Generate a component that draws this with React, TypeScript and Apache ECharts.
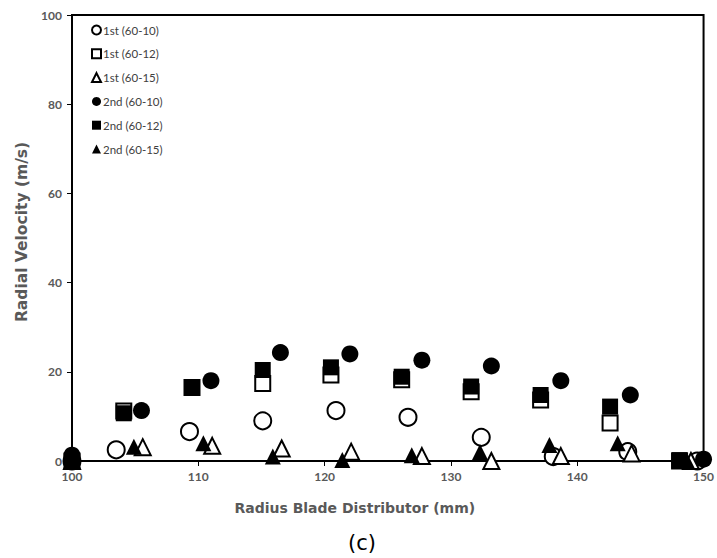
import React, { useEffect, useRef } from "react";
import * as echarts from "echarts";

const seriesNames = ["1st (60-10)", "1st (60-12)", "1st (60-15)", "2nd (60-10)", "2nd (60-12)", "2nd (60-15)"];

const x1st6010 = [100, 103.5, 109.3, 115.1, 120.9, 126.6, 132.4, 138.1, 144.0, 149.5];
const y1st6010 = [0, 2.5, 6.6, 9.0, 11.3, 9.8, 5.3, 1.0, 2.1, 0];

const x1st6012 = [100, 104.1, 109.5, 115.1, 120.5, 126.1, 131.6, 137.1, 142.6, 148.1];
const y1st6012 = [0, 11.2, 16.5, 17.4, 19.3, 18.2, 15.5, 13.7, 8.5, 0];

const x1st6015 = [100, 105.6, 111.1, 116.6, 122.1, 127.7, 133.2, 138.7, 144.3, 149.0];
const y1st6015 = [0, 3.1, 3.4, 2.8, 2.1, 1.1, 0, 1.1, 1.7, 0];

const x2nd6010 = [100, 105.5, 111.0, 116.5, 122.0, 127.7, 133.2, 138.7, 144.2, 150];
const y2nd6010 = [1.3, 11.3, 18.0, 24.3, 24.0, 22.6, 21.3, 18.0, 14.8, 0.4];

const x2nd6012 = [100, 104.1, 109.5, 115.1, 120.5, 126.1, 131.6, 137.1, 142.6, 148.1];
const y2nd6012 = [0, 10.7, 16.5, 20.4, 21.0, 18.9, 16.7, 14.8, 12.2, 0.2];

const x2nd6015 = [100, 104.9, 110.4, 115.9, 121.4, 126.9, 132.3, 137.8, 143.2, 148.7];
const y2nd6015 = [0, 3.2, 4.0, 1.0, 0.2, 1.3, 2.0, 3.6, 4.0, 0];

const xTicks = [100, 110, 120, 130, 140, 150];
const yTicks = [0, 20, 40, 60, 80, 100];

const pairs = (xs: number[], ys: number[]) => xs.map((x, i) => [x, ys[i]]);

export default function App() {
  const ref = useRef<HTMLDivElement>(null);
  useEffect(() => {
    document.body.style.margin = "0";
    const chart = echarts.init(ref.current!, null, { renderer: "svg" });
    const font = "Lato, 'Open Sans', sans-serif";
    const wide = "'DejaVu Sans', sans-serif";
    const mk = (name: string, xs: number[], ys: number[], symbol: string, size: number, open: boolean) => ({
      name,
      type: "scatter",
      data: pairs(xs, ys),
      symbol,
      symbolSize: size,
      itemStyle: open
        ? { color: "#ffffff", borderColor: "#000000", borderWidth: 2, opacity: 1 }
        : { color: "#000000", borderColor: "#000000", borderWidth: 0, opacity: 1 },
    });
    chart.setOption({
      animation: false,
      backgroundColor: "#ffffff",
      grid: {
        left: 72,
        right: 13,
        top: 15,
        bottom: 97,
        show: true,
        borderColor: "#000000",
        borderWidth: 2,
        backgroundColor: "transparent",
      },
      legend: {
        orient: "vertical",
        left: 86,
        top: 19,
        itemWidth: 9,
        itemHeight: 9,
        itemGap: 11.8,
        textStyle: { fontFamily: font, fontSize: 11.5, color: "#404040", padding: [0, 0, 0, -3] },
        data: seriesNames.map((n) => ({ name: n })),
      },
      xAxis: {
        type: "value",
        min: xTicks[0],
        max: xTicks[xTicks.length - 1],
        interval: 10,
        name: "Radius Blade Distributor (mm)",
        nameLocation: "middle",
        nameGap: 40,
        nameTextStyle: {
          fontFamily: wide,
          fontSize: 14,
          fontWeight: "bold",
          color: "#595959",
          padding: [0, 66, 0, 0],
        },
        axisLine: { show: true, lineStyle: { color: "#000000", width: 2 } },
        axisTick: { show: true, length: 5, lineStyle: { color: "#000000", width: 1 } },
        axisLabel: { fontFamily: font, fontSize: 12, fontWeight: "bold", color: "#595959", margin: 9 },
        splitLine: { show: false },
      },
      yAxis: {
        type: "value",
        min: yTicks[0],
        max: yTicks[yTicks.length - 1],
        interval: 20,
        name: "Radial Velocity (m/s)",
        nameLocation: "middle",
        nameGap: 41,
        nameTextStyle: {
          fontFamily: wide,
          fontSize: 15.5,
          fontWeight: "bold",
          color: "#595959",
          padding: [0, 0, 0, 12],
        },
        axisLine: { show: true, lineStyle: { color: "#000000", width: 2 } },
        axisTick: { show: true, length: 5, lineStyle: { color: "#000000", width: 1 } },
        axisLabel: { fontFamily: font, fontSize: 12, fontWeight: "bold", color: "#595959", margin: 10 },
        splitLine: { show: false },
      },
      graphic: [
        {
          type: "text",
          x: 362,
          y: 543,
          style: {
            text: "(c)",
            fontFamily: wide,
            fontSize: 21,
            fill: "#000000",
            textAlign: "center",
            textVerticalAlign: "middle",
          },
        },
      ],
      series: [
        mk(seriesNames[0], x1st6010, y1st6010, "circle", 17, true),
        mk(seriesNames[1], x1st6012, y1st6012, "rect", 15, true),
        mk(seriesNames[2], x1st6015, y1st6015, "triangle", 16, true),
        mk(seriesNames[3], x2nd6010, y2nd6010, "circle", 17, false),
        mk(seriesNames[4], x2nd6012, y2nd6012, "rect", 16, false),
        mk(seriesNames[5], x2nd6015, y2nd6015, "triangle", 16, false),
      ],
    });
    return () => chart.dispose();
  }, []);
  return <div ref={ref} style={{ width: 717, height: 558 }} />;
}
